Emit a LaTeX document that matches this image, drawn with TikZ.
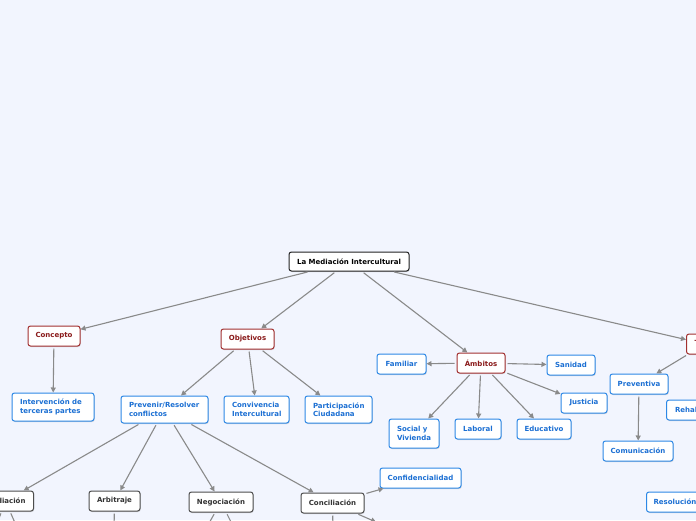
\documentclass[tikz,border=0pt]{standalone}
\usepackage{fontspec}
\setmainfont{DejaVu Sans}
\usepackage{xcolor}
\usepackage{tikz}
\usetikzlibrary{arrows.meta,shadows}
\definecolor{bgF}{HTML}{F2F5FE}
\definecolor{edgeG}{HTML}{8A8A8A}
\definecolor{rootB}{HTML}{222222}
\definecolor{redB}{HTML}{A23030}
\definecolor{redT}{HTML}{8A1A1A}
\definecolor{bluB}{HTML}{2D88E6}
\definecolor{bluT}{HTML}{1B6FD3}
\definecolor{gryB}{HTML}{4D4D4D}
\definecolor{gryT}{HTML}{333333}

\begin{document}
\begin{tikzpicture}[x=1pt,y=-1pt,
  font=\fontsize{7}{8.5}\selectfont\bfseries,
  box/.style={draw, fill=white, rounded corners=2.5pt, line width=1pt,
    inner xsep=0pt, inner ysep=0pt, minimum height=20pt, align=center,
    drop shadow={shadow xshift=0.7pt, shadow yshift=-1pt, opacity=0.3}},
  rootbox/.style={box, draw=rootB, text=black},
  catbox/.style={box, draw=redB, text=redT},
  leafbox/.style={box, draw=bluB, text=bluT},
  subbox/.style={box, draw=gryB, text=gryT},
  twoline/.style={align=left, inner xsep=8pt, minimum height=28pt},
  conn/.style={draw=edgeG, line width=1.1pt, shorten <=2pt,
    -{Triangle[length=5pt,width=5pt]}},
  ]

% === page
\useasboundingbox (0,0) rectangle (696,520);
\clip (0,0) rectangle (696,520);
\fill[bgF] (0,0) rectangle (696,520);

% === root and first level
\node[rootbox, minimum width=120pt, minimum height=19pt] (root) at (349,261.5) {La Mediación Intercultural};
\node[catbox, minimum width=52pt] (concepto) at (54,336) {Concepto};
\node[catbox, minimum width=53pt] (objetivos) at (247.5,339) {Objetivos};
\node[catbox, minimum width=48pt] (ambitos) at (481,363) {Ámbitos};
\node[catbox, anchor=west, inner xsep=8pt] (tipos) at (686,344) {Tipos};

% === concepto / objetivos
\node[leafbox, twoline, text width=66pt] (interv) at (53,407) {Intervención de\\terceras partes};
\node[leafbox, twoline, text width=71pt, minimum height=27pt] (prevenir) at (164.5,409.5) {Prevenir/Resolver\\conflictos};
\node[leafbox, twoline, text width=49pt, minimum height=27pt] (conviv) at (256.5,409.5) {Convivencia\\Intercultural};
\node[leafbox, twoline, text width=51pt, minimum height=27pt] (partic) at (338.5,409.5) {Participación\\Ciudadana};

% === ambitos
\node[leafbox, minimum width=49pt] (familiar) at (401.5,364) {Familiar};
\node[leafbox, minimum width=48pt] (sanidad) at (571,365) {Sanidad};
\node[leafbox, minimum width=46pt] (justicia) at (584,403) {Justicia};
\node[leafbox, twoline, text width=34pt, minimum height=29pt] (social) at (414,433.5) {Social y\\Vivienda};
\node[leafbox, minimum width=46pt] (laboral) at (478,429) {Laboral};
\node[leafbox, minimum width=54pt] (educativo) at (544,429) {Educativo};

% === tipos
\node[leafbox, minimum width=58pt] (preventiva) at (639,384) {Preventiva};
\node[leafbox, anchor=west, inner xsep=8.5pt] (rehab) at (666,410) {Rehabilitadora};
\node[leafbox, minimum width=70pt] (comunic) at (638,451) {Comunicación};
\node[leafbox, anchor=west, inner xsep=7pt] (resol) at (646,502) {Resolución};

% === prevenir / resolver
\node[subbox, anchor=east, inner xsep=8pt] (mediacion) at (34,501) {Mediación};
\node[subbox, minimum width=51pt] (arbitraje) at (114.5,501) {Arbitraje};
\node[subbox, minimum width=64pt] (negoc) at (221,502) {Negociación};
\node[subbox, minimum width=63pt] (concil) at (332.5,503) {Conciliación};
\node[leafbox, minimum width=81pt] (confid) at (420.5,478) {Confidencialidad};

% === free ends below the page
\coordinate (medA) at (-6,532);
\coordinate (medB) at (19,532);
\coordinate (arbA) at (114,532);
\coordinate (negA) at (204,532);
\coordinate (negB) at (236,532);
\coordinate (conA) at (333,532);
\coordinate (conB) at (376,522);

% === connectors
\draw[conn] (root) -- (concepto);
\draw[conn] (root) -- (objetivos);
\draw[conn] (root) -- (ambitos);
\draw[conn] (root) -- (tipos);
\draw[conn] (concepto) -- (interv);
\draw[conn] (objetivos) -- (prevenir);
\draw[conn] (objetivos) -- (conviv);
\draw[conn] (objetivos) -- (partic);
\draw[conn] (ambitos) -- (familiar);
\draw[conn] (ambitos) -- (sanidad);
\draw[conn] (ambitos) -- (justicia);
\draw[conn] (ambitos) -- (social);
\draw[conn] (ambitos) -- (laboral);
\draw[conn] (ambitos) -- (educativo);
\draw[conn] (tipos) -- (preventiva);
\draw[conn] (preventiva) -- (comunic);
\draw[conn] (prevenir) -- (mediacion);
\draw[conn] (prevenir) -- (arbitraje);
\draw[conn] (prevenir) -- (negoc);
\draw[conn] (prevenir) -- (concil);
\draw[conn] (concil) -- (confid);
\draw[conn] (mediacion) -- (medA);
\draw[conn] (mediacion) -- (medB);
\draw[conn] (arbitraje) -- (arbA);
\draw[conn] (negoc) -- (negA);
\draw[conn] (negoc) -- (negB);
\draw[conn] (concil) -- (conA);
\draw[conn] (concil) -- (conB);

\end{tikzpicture}
\end{document}
